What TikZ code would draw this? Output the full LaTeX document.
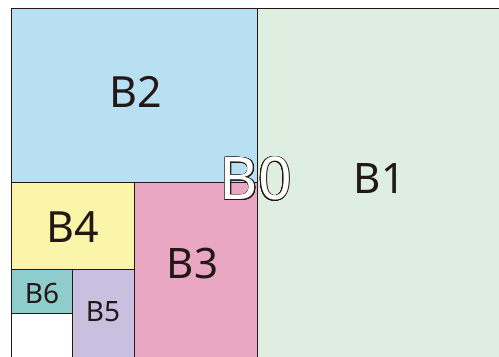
\documentclass[tikz,border=0pt]{standalone}
\usepackage{fontspec}
\setmainfont{Noto Sans}
\usepackage{contour}
\contourlength{0.7bp}
\contournumber{24}
\definecolor{ink}{HTML}{231815}
\definecolor{cB1}{HTML}{DEEEE0}
\definecolor{cB2}{HTML}{B9DFF3}
\definecolor{cB3}{HTML}{E9A7C3}
\definecolor{cB4}{HTML}{FAF5A9}
\definecolor{cB5}{HTML}{C8C0DE}
\definecolor{cB6}{HTML}{8FCCCC}
\begin{document}
\begin{tikzpicture}[x=1bp,y=-1bp,
  edge/.style={draw=ink,line width=0.9bp},
  lbl/.style={inner sep=0pt,text=ink,font=\fontsize{#1}{#1}\selectfont},
  lbl/.default=43bp]
\useasboundingbox (0,0) rectangle (499,356);
\fill[white] (0,0) rectangle (499,356);
% fills
\fill[cB1] (257,8) rectangle (505,358);
\fill[cB2] (11,8) rectangle (257,182);
\fill[cB3] (134,182) rectangle (257,358);
\fill[cB4] (11,182) rectangle (134,269);
\fill[cB5] (72,269) rectangle (134,358);
\fill[cB6] (11,269) rectangle (72,313);
% lines
\draw[edge] (11,358) -- (11,8) -- (505,8);
\draw[edge] (257,8) -- (257,358);
\draw[edge] (11,182) -- (257,182);
\draw[edge] (134,182) -- (134,358);
\draw[edge] (11,269) -- (134,269);
\draw[edge] (72,269) -- (72,358);
\draw[edge] (11,313) -- (72,313);
% labels
\node[lbl=42bp] (b1) at (379.5,178) {B1};
\node[lbl=43bp] (b2) at (136,91.5) {B2};
\node[lbl=42bp] (b3) at (192.5,263.5) {B3};
\node[lbl=43bp] (b4) at (73,227.5) {B4};
\node[lbl=28bp] (b5) at (103,312) {B5};
\node[lbl=28bp] (b6) at (42,293) {B6};
\node[lbl=59bp] (b0) at (256,179) {\contour{ink}{\textcolor{white}{B0}}};
\end{tikzpicture}
\end{document}
